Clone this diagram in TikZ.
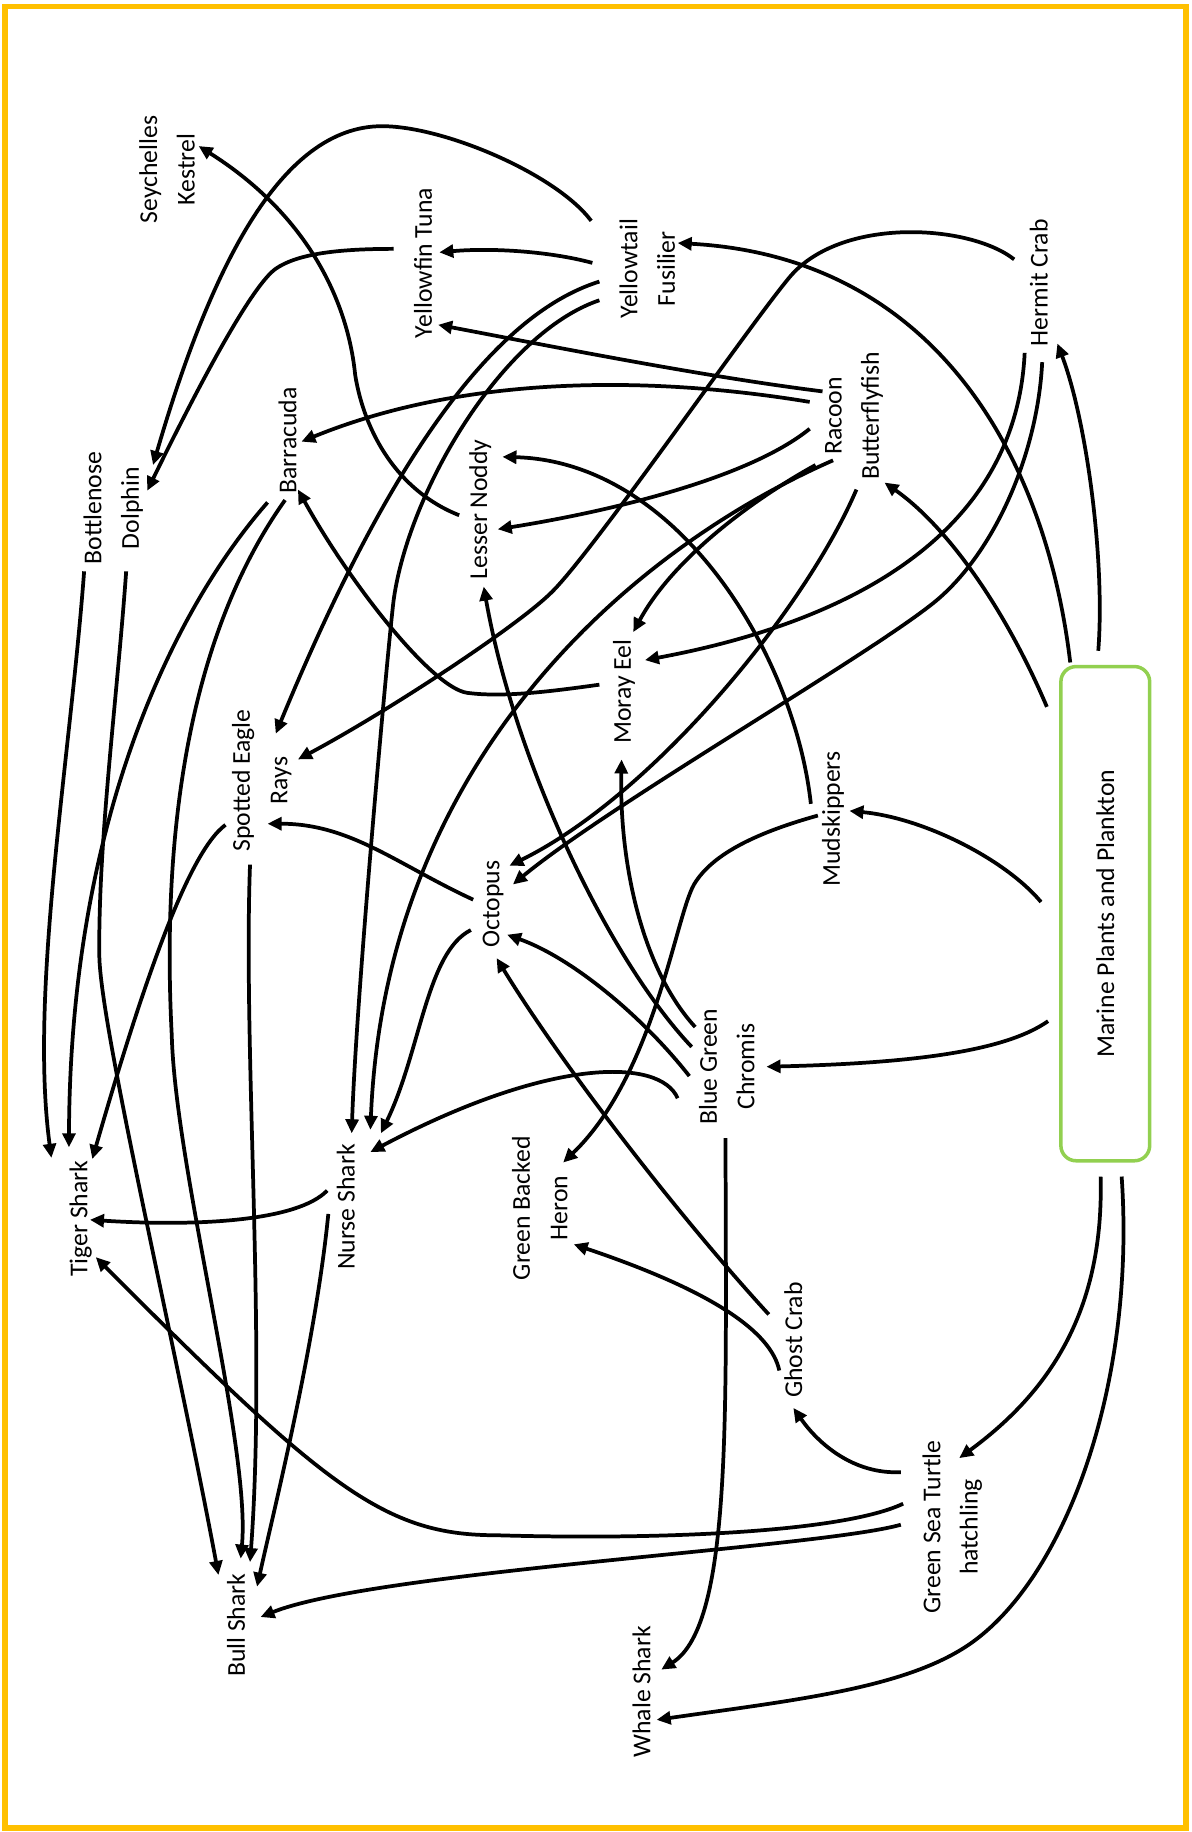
\documentclass[tikz,border=0pt]{standalone}
\usepackage{fontspec}
\setmainfont{Carlito}
\usetikzlibrary{arrows.meta}
\definecolor{borderyellow}{HTML}{FFC000}
\definecolor{boxgreen}{HTML}{92D050}
\tikzset{
  species/.style={rotate=90, align=center, inner sep=1pt},
  feeds/.style={line width=3.2pt, -{Triangle[length=12pt,width=11pt]}}
}
\begin{document}
\begin{tikzpicture}[x=1pt, y=-1pt, font=\fontsize{22}{32}\selectfont]
        \useasboundingbox (0,0) rectangle (1020,1568);
        % Draw border
        \draw[borderyellow, line width=5pt] (4.5,5.5) rectangle (1015,1564.5);
        % Draw producer
        \node[draw=boxgreen, line width=3pt, rounded corners=13pt, rotate=90,
              minimum width=423pt, minimum height=76pt] (plants) at (946,782) {Marine Plants and Plankton};
        % Draw animals
        \node[species] (kestrel) at (143,145) {Seychelles\\Kestrel};
        \node[species] (tuna) at (362,225) {Yellowfin Tuna};
        \node[species] (fusilier) at (554,230) {Yellowtail\\Fusilier};
        \node[species] (hermit) at (889,242) {Hermit Crab};
        \node[species] (racoon) at (731,356) {Racoon\\Butterflyfish};
        \node[species] (barracuda) at (246,377) {Barracuda};
        \node[species] (dolphin) at (97,435) {Bottlenose\\Dolphin};
        \node[species] (noddy) at (411,436) {Lesser Noddy};
        \node[species] (moray) at (534,592) {Moray Eel};
        \node[species] (rays) at (224,668) {Spotted Eagle\\Rays};
        \node[species] (octopus) at (422,774) {Octopus};
        \node[species] (mudskip) at (713,701) {Mudskippers};
        \node[species] (chromis) at (622,913) {Blue Green\\Chromis};
        \node[species] (tiger) at (69,1043) {Tiger Shark};
        \node[species] (nurse) at (296,1033) {Nurse Shark};
        \node[species] (heron) at (462,1034) {Green Backed\\Heron};
        \node[species] (ghost) at (679,1147) {Ghost Crab};
        \node[species] (turtle) at (815,1307) {Green Sea Turtle\\hatchling};
        \node[species] (whale) at (549,1448) {Whale Shark};
        \node[species] (bull) at (202,1391) {Bull Shark};
        % Draw arrows from the plants
        \draw[feeds] ([shift={(-6,-225)}]plants.center) .. controls (946,480) and (930,360) .. ([shift={(16,52)}]hermit.center);
        \draw[feeds] ([shift={(-30,-215)}]plants.center) .. controls (895,390) and (800,220) .. ([shift={(26,-22)}]fusilier.center);
        \draw[feeds] ([shift={(-50,-177)}]plants.center) .. controls (860,520) and (810,450) .. ([shift={(26,57)}]racoon.center);
        \draw[feeds] ([shift={(-55,-10)}]plants.center) .. controls (860,735) and (790,700) .. ([shift={(14,-7)}]mudskip.center);
        \draw[feeds] ([shift={(-49,92)}]plants.center) .. controls (860,900) and (780,910) .. ([shift={(34,0)}]chromis.center);
        \draw[feeds] ([shift={(-4,225)}]plants.center) .. controls (945,1120) and (900,1190) .. ([shift={(6,-59)}]turtle.center);
        \draw[feeds] ([shift={(14,225)}]plants.center) .. controls (972,1180) and (915,1345) .. (833,1405)
                     .. controls (778,1445) and (680,1455) .. ([shift={(13,24)}]whale.center);
        % Draw arrows from the turtle and ghost crab
        \draw[feeds] ([shift={(-44,-47)}]turtle.center) .. controls (730,1262) and (700,1235) .. ([shift={(0,58)}]ghost.center);
        \draw[feeds] ([shift={(-42,-20)}]turtle.center) .. controls (720,1312) and (560,1318) .. (425,1314)
                     .. controls (330,1314) and (280,1275) .. ([shift={(13,33)}]tiger.center);
        \draw[feeds] ([shift={(-44,-2)}]turtle.center) .. controls (700,1325) and (320,1345) .. ([shift={(21,-7)}]bull.center);
        \draw[feeds] ([shift={(-12,26)}]ghost.center) .. controls (660,1140) and (610,1105) .. ([shift={(29,31)}]heron.center);
        \draw[feeds] ([shift={(-21,-22)}]ghost.center) .. controls (580,1040) and (480,910) .. ([shift={(3,46)}]octopus.center);
        % Draw arrows from the chromis
        \draw[feeds] ([shift={(-1,61)}]chromis.center) .. controls (621,1200) and (628,1390) .. ([shift={(17,-19)}]whale.center);
        \draw[feeds] ([shift={(-32,8)}]chromis.center) .. controls (550,870) and (490,820) .. ([shift={(12,26)}]octopus.center);
        \draw[feeds] ([shift={(-27,-34)}]chromis.center) .. controls (550,830) and (530,740) .. ([shift={(-2,58)}]moray.center);
        \draw[feeds] ([shift={(-30,-17)}]chromis.center) .. controls (520,820) and (440,650) .. ([shift={(3,66)}]noddy.center);
        \draw[feeds] ([shift={(-42,27)}]chromis.center) .. controls (565,905) and (470,905) .. ([shift={(21,-47)}]nurse.center);
        % Draw arrows from the octopus and moray eel
        \draw[feeds] ([shift={(-19,22)}]octopus.center) .. controls (365,815) and (360,900) .. ([shift={(30,-63)}]nurse.center);
        \draw[feeds] ([shift={(-17,-4)}]octopus.center) .. controls (340,740) and (300,705) .. ([shift={(5,37)}]rays.center);
        \draw[feeds] ([shift={(-21,-6)}]moray.center) .. controls (470,592) and (430,597) .. (400,593)
                     .. controls (370,589) and (300,500) .. ([shift={(9,42)}]barracuda.center);
        % Draw arrows from the racoon butterflyfish
        \draw[feeds] ([shift={(-38,-12)}]racoon.center) .. controls (560,322) and (400,320) .. ([shift={(12,1)}]barracuda.center);
        \draw[feeds] ([shift={(-27,-21)}]racoon.center) .. controls (600,322) and (470,296) .. ([shift={(13,53)}]tuna.center);
        \draw[feeds] ([shift={(-38,11)}]racoon.center) .. controls (640,410) and (520,438) .. ([shift={(15,17)}]noddy.center);
        \draw[feeds] ([shift={(-33,42)}]racoon.center) .. controls (640,430) and (575,480) .. ([shift={(8,-51)}]moray.center);
        \draw[feeds] ([shift={(-18,38)}]racoon.center) .. controls (540,470) and (330,650) .. ([shift={(21,-66)}]nurse.center);
        \draw[feeds] ([shift={(2,63)}]racoon.center) .. controls (690,520) and (560,680) .. ([shift={(14,-33)}]octopus.center);
        % Draw arrows from the hermit crab
        \draw[feeds] ([shift={(3,68)}]hermit.center) .. controls (888,390) and (850,475) .. (799,516)
                     .. controls (739,564) and (520,690) .. ([shift={(17,-17)}]octopus.center);
        \draw[feeds] ([shift={(-12,60)}]hermit.center) .. controls (870,450) and (740,530) .. ([shift={(18,-27)}]moray.center);
        \draw[feeds] ([shift={(-21,-20)}]hermit.center) .. controls (830,192) and (720,185) .. (676,237)
                     .. controls (640,280) and (505,476) .. (471,508)
                     .. controls (440,538) and (330,610) .. ([shift={(31,-18)}]rays.center);
        % Draw arrows from the fusilier and tuna
        \draw[feeds] ([shift={(-41,11)}]fusilier.center) .. controls (420,270) and (330,400) .. ([shift={(12,-40)}]rays.center);
        \draw[feeds] ([shift={(-41,27)}]fusilier.center) .. controls (430,285) and (350,420) .. (337,513)
                     .. controls (333,543) and (305,850) .. ([shift={(5,-63)}]nurse.center);
        \draw[feeds] ([shift={(-47,-5)}]fusilier.center) .. controls (470,215) and (420,212) .. ([shift={(14,-9)}]tuna.center);
        \draw[feeds] ([shift={(-48,-41)}]fusilier.center) .. controls (476,149) and (380,108) .. (327,108)
                     .. controls (240,108) and (180,230) .. ([shift={(34,-37)}]dolphin.center);
        \draw[feeds] ([shift={(-25,-12)}]tuna.center) .. controls (290,213) and (255,217) .. (236,230)
                     .. controls (215,245) and (170,330) .. ([shift={(29,-15)}]dolphin.center);
        % Draw arrows from the noddy and mudskippers
        \draw[feeds] ([shift={(-18,5)}]noddy.center) .. controls (340,420) and (312,370) .. (304,321)
                     .. controls (298,260) and (265,185) .. ([shift={(27,-20)}]kestrel.center);
        \draw[feeds] ([shift={(-19,-13)}]mudskip.center) .. controls (680,560) and (580,395) .. ([shift={(19,-45)}]noddy.center);
        \draw[feeds] ([shift={(-13,-3)}]mudskip.center) .. controls (650,712) and (610,730) .. (594,757)
                     .. controls (578,785) and (560,920) .. ([shift={(20,-39)}]heron.center);
        % Draw arrows to the big sharks
        \draw[feeds] ([shift={(-17,53)}]barracuda.center) .. controls (150,520) and (60,700) .. ([shift={(-10,-61)}]tiger.center);
        \draw[feeds] ([shift={(-2,51)}]barracuda.center) .. controls (150,560) and (140,750) .. (147,886)
                     .. controls (150,1000) and (215,1240) .. ([shift={(4,-57)}]bull.center);
        \draw[feeds] ([shift={(-25,54)}]dolphin.center) .. controls (60,650) and (25,850) .. ([shift={(-25,-52)}]tiger.center);
        \draw[feeds] ([shift={(11,54)}]dolphin.center) .. controls (100,600) and (84,720) .. (85,818)
                     .. controls (86,880) and (150,1150) .. ([shift={(-15,-43)}]bull.center);
        \draw[feeds] ([shift={(-31,38)}]rays.center) .. controls (160,730) and (120,850) .. ([shift={(10,-51)}]tiger.center);
        \draw[feeds] ([shift={(-10,72)}]rays.center) .. controls (208,900) and (228,1150) .. ([shift={(12,-54)}]bull.center);
        \draw[feeds] ([shift={(-15,6)}]nurse.center) .. controls (270,1150) and (235,1290) .. ([shift={(18,-33)}]bull.center);
        \draw[feeds] ([shift={(-16,-14)}]nurse.center) .. controls (255,1045) and (170,1050) .. ([shift={(8,1)}]tiger.center);
\end{tikzpicture}
\end{document}
